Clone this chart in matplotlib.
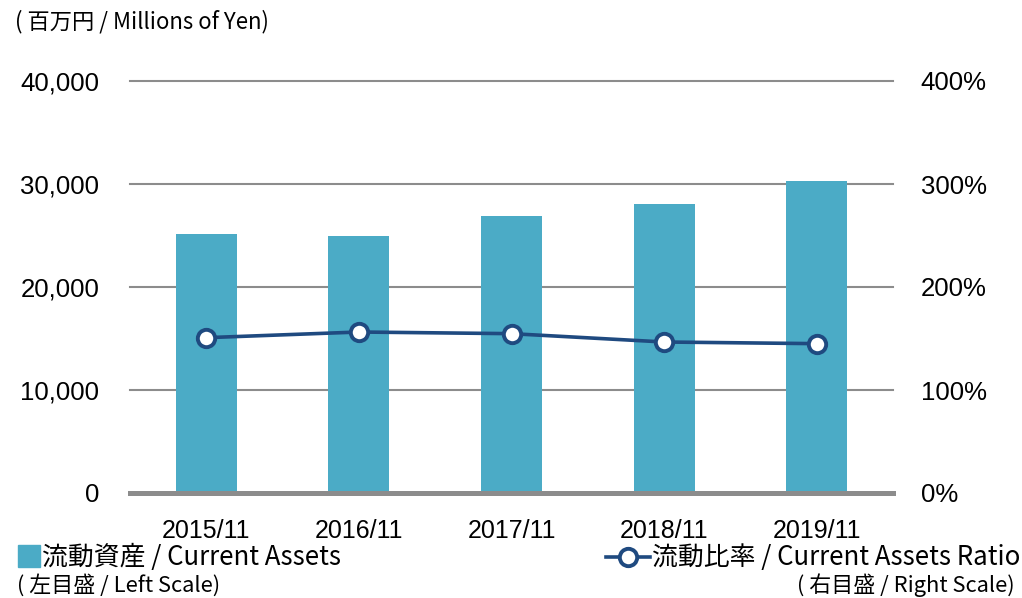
import matplotlib
matplotlib.use("Agg")
import matplotlib.pyplot as plt
from matplotlib.patches import Rectangle
from matplotlib.lines import Line2D

categories = ["2015/11", "2016/11", "2017/11", "2018/11", "2019/11"]
current_assets = [25150, 24950, 26900, 28100, 30300]
current_ratio = [150.8, 156.3, 154.7, 146.6, 145.0]
left_ticks = [0, 10000, 20000, 30000, 40000]
left_labels = ["0", "10,000", "20,000", "30,000", "40,000"]
right_ticks = [0, 100, 200, 300, 400]
right_labels = ["0%", "100%", "200%", "300%", "400%"]

BAR = "#4BABC6"
LINE = "#1F4A80"
GRID = "#8C8C8C"
CJK = ["Noto Sans CJK JP", "DejaVu Sans"]
NUM = ["Liberation Sans", "DejaVu Sans"]

W, H = 1022, 598
fig = plt.figure(figsize=(W / 100, H / 100), dpi=100)
ax = fig.add_axes([130 / W, (H - 493) / H, (893 - 130) / W, (493 - 81) / H])
ax2 = ax.twinx()

x = list(range(len(categories)))
ax.bar(x, current_assets, width=0.4, color=BAR, zorder=2)
ax.set_xlim(-0.5, len(categories) - 0.5)
ax.set_ylim(0, 40000)
for t in left_ticks[1:]:
    ax.axhline(t, color=GRID, lw=1.5, zorder=1, clip_on=False)
ax.axhline(0, color=GRID, lw=3.6, zorder=3, clip_on=False)

ax2.plot(x, current_ratio, color=LINE, lw=2.6, marker="o", markersize=12.5,
         markerfacecolor="white", markeredgecolor=LINE, markeredgewidth=2.8, zorder=4)
ax2.set_ylim(0, 400)
ax2.set_zorder(ax.get_zorder() + 1)
ax2.patch.set_visible(False)

ax.set_yticks(left_ticks)
ax.set_yticklabels(left_labels, fontfamily=NUM, fontsize=18.5)
ax2.set_yticks(right_ticks)
ax2.set_yticklabels(right_labels, fontfamily=NUM, fontsize=18.5)
ax.set_xticks(x)
ax.set_xticklabels(categories, fontfamily=NUM, fontsize=18)
ax.tick_params(axis="y", length=0, pad=22)
ax2.tick_params(axis="y", length=0, pad=20)
ax.tick_params(axis="x", length=0, pad=19)
for a in (ax, ax2):
    for s in a.spines.values():
        s.set_visible(False)
    a.tick_params(axis="x", length=0)

fig.text(15 / W, 1 - 22 / H, "( 百万円 / Millions of Yen)", fontfamily=CJK,
         fontsize=16, va="center", ha="left")

# legend (left)
fig.patches.append(Rectangle((18 / W, 1 - 567 / H), 22 / W, 22 / H,
                             transform=fig.transFigure, color=BAR))
fig.text(42 / W, 1 - 557 / H, "流動資産 / Current Assets", fontfamily=CJK,
         fontsize=18.6, va="center", ha="left")
fig.text(17 / W, 1 - 585 / H, "( 左目盛 / Left Scale)", fontfamily=CJK,
         fontsize=15.8, va="center", ha="left")

# legend (right)
fig.lines.append(Line2D([606 / W, 650 / W], [1 - 557 / H, 1 - 557 / H],
                        transform=fig.transFigure, color=LINE, lw=2.6))
fig.lines.append(Line2D([628 / W], [1 - 557 / H], transform=fig.transFigure,
                        color=LINE, marker="o", markersize=12.5, markerfacecolor="white",
                        markeredgecolor=LINE, markeredgewidth=2.8))
fig.text(1020 / W, 1 - 557 / H, "流動比率 / Current Assets Ratio", fontfamily=CJK,
         fontsize=18.6, va="center", ha="right")
fig.text(1015 / W, 1 - 585 / H, "( 右目盛 / Right Scale)", fontfamily=CJK,
         fontsize=15.8, va="center", ha="right")

fig.savefig("out.png", dpi=100)
